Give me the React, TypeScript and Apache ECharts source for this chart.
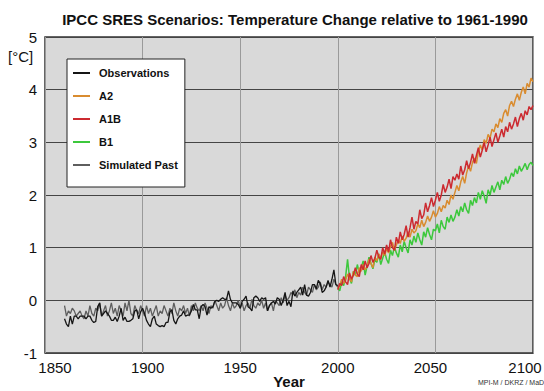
import React, { useEffect, useRef } from 'react';
import * as echarts from 'echarts';

const TITLE = 'IPCC SRES Scenarios: Temperature Change relative to 1961-1990';
const Y_UNIT = '[°C]';
const X_NAME = 'Year';
const CREDIT = 'MPI-M / DKRZ / MaD';
const X_MIN = 1850;
const X_MAX = 2100;
const X_STEP = 50;
const Y_MIN = -1;
const Y_MAX = 5;
const Y_STEP = 1;

const LEGEND_NAMES = ['Observations', 'A2', 'A1B', 'B1', 'Simulated Past'];

const OBS_START = 1860;
const observations = [
  -0.35, -0.45, -0.50, -0.30, -0.45, -0.30, -0.30, -0.35, -0.30, -0.30,
  -0.30, -0.35, -0.30, -0.30, -0.38, -0.42, -0.40, -0.12, -0.05, -0.30,
  -0.25, -0.20, -0.25, -0.30, -0.38, -0.38, -0.32, -0.40, -0.30, -0.15,
  -0.38, -0.32, -0.40, -0.40, -0.38, -0.35, -0.20, -0.18, -0.35, -0.22,
  -0.15, -0.25, -0.38, -0.45, -0.50, -0.35, -0.30, -0.45, -0.48, -0.50,
  -0.48, -0.50, -0.42, -0.42, -0.22, -0.18, -0.38, -0.45, -0.35, -0.30,
  -0.28, -0.20, -0.30, -0.28, -0.28, -0.20, -0.08, -0.18, -0.18, -0.35,
  -0.12, -0.08, -0.12, -0.28, -0.12, -0.15, -0.12, -0.02, 0.00, -0.02,
  0.02, 0.05, 0.02, 0.02, 0.18, 0.02, -0.05, -0.05, -0.05, -0.08,
  -0.15, -0.02, 0.02, 0.08, -0.12, -0.15, -0.20, 0.05, 0.08, 0.05,
  -0.02, 0.05, 0.02, 0.05, -0.20, -0.10, -0.05, -0.02, -0.07, 0.05,
  0.02, -0.10, 0.00, 0.15, -0.10, -0.02, -0.12, 0.18, 0.08, 0.15,
  0.20, 0.25, 0.10, 0.30, 0.10, 0.08, 0.15, 0.30, 0.30, 0.22,
  0.38, 0.32, 0.15, 0.18, 0.25, 0.38, 0.25, 0.40, 0.58, 0.30,
  0.28,
];

const SIM_START = 1860;
const simulatedPast = [
  -0.10, -0.30, -0.20, -0.25, -0.15, -0.20, -0.30, -0.25, -0.20, -0.30,
  -0.35, -0.20, -0.30, -0.10, -0.25, -0.30, -0.15, -0.20, -0.05, -0.30,
  -0.20, -0.10, -0.30, -0.20, -0.05, -0.25, -0.15, -0.30, -0.10, -0.20,
  -0.30, -0.05, -0.20, 0.00, -0.25, -0.30, -0.10, -0.20, -0.25, -0.10,
  -0.20, -0.30, -0.10, -0.25, -0.15, -0.30, -0.20, -0.10, -0.30, -0.20,
  -0.25, -0.10, -0.20, -0.30, -0.15, -0.25, -0.05, -0.20, -0.30, -0.15,
  -0.20, -0.10, -0.25, -0.15, -0.30, -0.10, -0.20, -0.05, -0.15, -0.20,
  -0.10, -0.20, -0.05, -0.15, -0.25, -0.10, -0.15, 0.00, -0.10, -0.20,
  -0.05, -0.15, -0.10, 0.05, -0.10, -0.20, -0.05, -0.15, -0.10, 0.00,
  -0.15, -0.05, -0.20, -0.10, -0.05, -0.15, 0.02, -0.10, -0.15, -0.05,
  -0.10, 0.00, -0.15, -0.05, -0.20, -0.10, -0.05, -0.20, 0.00, -0.05,
  -0.10, 0.05, -0.05, 0.10, 0.00, 0.05, 0.15, 0.10, 0.20, 0.05,
  0.15, 0.10, 0.25, 0.15, 0.10, 0.25, 0.20, 0.15, 0.30, 0.20,
  0.25, 0.35, 0.20, 0.30, 0.25, 0.35, 0.30, 0.25, 0.40, 0.30,
  0.25,
];

const SCEN_START = 2000;
const a2 = [
  0.22, 0.28, 0.40, 0.32, 0.38, 0.50, 0.42, 0.35, 0.55, 0.48,
  0.45, 0.62, 0.55, 0.68, 0.58, 0.65, 0.78, 0.70, 0.62, 0.82,
  0.75, 0.88, 0.80, 0.92, 0.85, 0.98, 0.90, 1.02, 1.10, 0.95,
  1.05, 1.15, 1.08, 1.22, 1.12, 1.18, 1.30, 1.20, 1.35, 1.28,
  1.32, 1.45, 1.38, 1.52, 1.40, 1.48, 1.60, 1.50, 1.58, 1.70,
  1.58, 1.65, 1.78, 1.68, 1.80, 1.75, 1.90, 1.82, 2.00, 1.92,
  2.05, 2.18, 2.08, 2.25, 2.35, 2.22, 2.42, 2.55, 2.45, 2.62,
  2.70, 2.60, 2.82, 2.95, 2.85, 3.05, 2.98, 3.15, 3.08, 3.25,
  3.20, 3.35, 3.28, 3.45, 3.38, 3.55, 3.62, 3.50, 3.70, 3.78,
  3.68, 3.82, 3.92, 3.80, 3.95, 4.05, 3.92, 4.12, 4.05, 4.22,
  4.15,
];
const a1b = [
  0.20, 0.32, 0.28, 0.45, 0.35, 0.30, 0.52, 0.40, 0.48, 0.62,
  0.50, 0.45, 0.68, 0.58, 0.75, 0.62, 0.70, 0.85, 0.72, 0.80,
  0.95, 0.82, 0.78, 1.00, 0.88, 1.05, 0.92, 1.15, 1.00, 0.95,
  1.20, 1.08, 1.30, 1.15, 1.25, 1.42, 1.20, 1.38, 1.58, 1.35,
  1.50, 1.45, 1.72, 1.55, 1.62, 1.85, 1.68, 1.80, 1.95, 1.78,
  1.90, 2.05, 1.88, 2.00, 2.20, 2.05, 2.15, 2.30, 2.12, 2.35,
  2.28, 2.40, 2.30, 2.55, 2.38, 2.48, 2.65, 2.50, 2.62, 2.78,
  2.60, 2.75, 2.90, 2.72, 2.85, 3.00, 2.82, 2.95, 3.10, 2.92,
  3.05, 3.18, 3.00, 3.12, 3.25, 3.10, 3.30, 3.20, 3.38, 3.25,
  3.35, 3.48, 3.30, 3.45, 3.55, 3.42, 3.60, 3.52, 3.68, 3.62,
  3.70,
];
const b1 = [
  0.25, 0.18, 0.35, 0.28, 0.45, 0.78, 0.42, 0.32, 0.55, 0.48,
  0.68, 0.52, 0.62, 0.75, 0.48, 0.65, 0.82, 0.70, 0.60, 0.78,
  0.72, 0.88, 0.68, 0.80, 0.92, 0.78, 0.70, 0.95, 0.85, 1.02,
  0.90, 0.82, 1.05, 0.92, 1.12, 1.00, 0.90, 1.15, 1.05, 1.22,
  1.10, 1.28, 1.15, 1.05, 1.30, 1.20, 1.38, 1.25, 1.15, 1.35,
  1.32, 1.45, 1.28, 1.52, 1.40, 1.35, 1.58, 1.48, 1.62, 1.50,
  1.58, 1.72, 1.60, 1.78, 1.68, 1.85, 1.72, 1.65, 1.90, 1.80,
  1.95, 1.85, 2.05, 1.92, 2.08, 1.98, 1.84, 2.10, 2.00, 2.18,
  2.05, 2.15, 2.25, 2.10, 2.28, 2.20, 2.35, 2.22, 2.30, 2.42,
  2.35, 2.50, 2.40, 2.55, 2.45, 2.52, 2.60, 2.48, 2.58, 2.62,
  2.56,
];

const FONT = '"Liberation Sans", Arial, Helvetica, sans-serif';
const TEXT = '#111111';

const toPairs = (start: number, vals: number[]) => vals.map((v, i) => [start + i, v]);

// visual nudges for x labels (px, + right / - left), as in the original image
const xLabelFormatter = (v: number) => {
  if (v === 1850) return '{s20| }{t|' + v + '}';
  if (v === 1900) return '{s10| }{t|' + v + '}';
  if (v === 2050) return '{t|' + v + '}{s10| }';
  if (v === 2100) return '{t|' + v + '}{s16| }';
  if (v % X_STEP !== 0) return '';
  return '{t|' + v + '}';
};

export default function App() {
  const ref = useRef<HTMLDivElement>(null);

  useEffect(() => {
    if (!ref.current) return;
    const chart = echarts.init(ref.current, null, { renderer: 'svg' });
    const lineSeries = (name: string, start: number, vals: number[], color: string, width: number, z: number) => ({
      name,
      type: 'line',
      data: toPairs(start, vals),
      showSymbol: false,
      symbol: 'none',
      lineStyle: { color, width },
      itemStyle: { color },
      z,
    });
    chart.setOption({
      animation: false,
      backgroundColor: '#ffffff',
      textStyle: { fontFamily: FONT },
      title: {
        text: TITLE,
        left: 290,
        textAlign: 'center',
        top: 7,
        textStyle: { fontFamily: FONT, fontSize: 15, fontWeight: 'bold', color: TEXT },
      },
      grid: {
        left: 45,
        right: 11,
        top: 37,
        bottom: 38,
        containLabel: false,
        outerBoundsMode: 'none',
        show: true,
        backgroundColor: '#d9d9d9',
        borderColor: '#333333',
        borderWidth: 1.5,
      },
      legend: {
        orient: 'vertical',
        left: 67,
        top: 59,
        data: LEGEND_NAMES,
        backgroundColor: '#ffffff',
        borderColor: '#222222',
        borderWidth: 1,
        borderRadius: 0,
        padding: [7, 7, 15, 6],
        itemGap: 9,
        itemWidth: 17,
        itemHeight: 2,
        icon: 'rect',
        selectedMode: false,
        textStyle: {
          fontFamily: FONT,
          fontSize: 11,
          fontWeight: 'bold',
          color: TEXT,
          lineHeight: 14,
          padding: [0, 0, 0, 4],
        },
      },
      xAxis: {
        type: 'value',
        min: X_MIN,
        max: X_MAX,
        interval: X_STEP,
        name: X_NAME,
        nameLocation: 'middle',
        nameGap: 21,
        nameMoveOverlap: false,
        nameTextStyle: {
          fontFamily: FONT,
          fontSize: 15,
          fontWeight: 'bold',
          color: TEXT,
          verticalAlign: 'top',
        },
        axisLine: { show: false },
        axisTick: { show: false },
        axisLabel: {
          margin: 7,
          formatter: xLabelFormatter,
          rich: {
            t: { fontFamily: FONT, fontSize: 15, color: TEXT },
            s10: { width: 10 },
            s16: { width: 16 },
            s20: { width: 20 },
          },
        },
        splitLine: { show: true, lineStyle: { color: '#9a9a9a', width: 1 } },
      },
      yAxis: {
        type: 'value',
        min: Y_MIN,
        max: Y_MAX,
        interval: Y_STEP,
        axisLine: { show: false },
        axisTick: { show: false },
        axisLabel: { margin: 8, fontFamily: FONT, fontSize: 15, color: TEXT },
        splitLine: { show: true, lineStyle: { color: '#454545', width: 1 } },
      },
      graphic: [
        {
          type: 'text',
          left: 8,
          top: 49,
          style: { text: Y_UNIT, fontFamily: FONT, fontSize: 15, fill: TEXT },
        },
        {
          type: 'text',
          left: 478,
          top: 379,
          style: { text: CREDIT, fontFamily: FONT, fontSize: 7, fill: '#333333' },
        },
      ],
      series: [
        lineSeries('Simulated Past', SIM_START, simulatedPast, '#5e5e5e', 1.3, 2),
        lineSeries('Observations', OBS_START, observations, '#151515', 1.3, 3),
        lineSeries('B1', SCEN_START, b1, '#3cc83c', 1.5, 4),
        lineSeries('A2', SCEN_START, a2, '#d98c30', 1.5, 5),
        lineSeries('A1B', SCEN_START, a1b, '#cc2a30', 1.5, 6),
      ],
    });
    return () => chart.dispose();
  }, []);

  return (
    <div
      ref={ref}
      style={{ position: 'fixed', left: 0, top: 0, width: 544, height: 391 }}
    />
  );
}
